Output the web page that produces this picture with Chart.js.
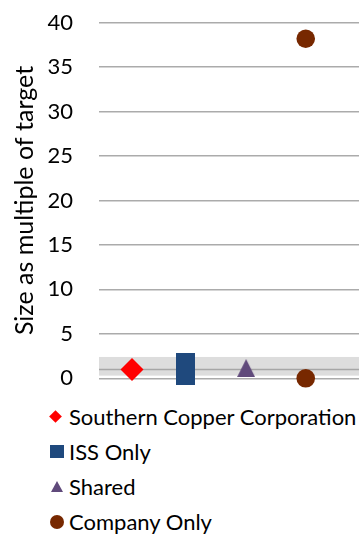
<!DOCTYPE html>
<html>
<head>
<meta charset="utf-8">
<script src="https://cdn.jsdelivr.net/npm/chart.js@4"></script>
<style>
  html, body { margin: 0; padding: 0; background: #fff; }
  #wrap { position: relative; width: 359px; height: 534px; }
  #chart-box { position: absolute; left: 0; top: 0; width: 359px; height: 395px; }
  #legend { position: absolute; left: 0; top: 399px; width: 359px; font-family: Lato, "Open Sans", sans-serif; font-size: 22px; color: #000; }
  .item { position: relative; height: 35px; line-height: 35px; padding-left: 69px; white-space: nowrap; }
  .mk { position: absolute; top: 50%; }
</style>
</head>
<body>
<div id="wrap">
  <div id="chart-box"><canvas id="scatter-chart"></canvas></div>
  <div id="legend"></div>
</div>
<script>
// Series (x = slot on the horizontal, y = size as multiple of target)
const seriesNames = ["Southern Copper Corporation", "ISS Only", "Shared", "Company Only"];
const companyX = [1];
const companyY = [1.0];
const issX = [1.92];
const issY = [1.0];
const sharedX = [2.97];
const sharedY = [1.15];
const onlyX = [4, 4];
const onlyY = [38.2, 0.0];

// target band and target line
const bandRange = [0.3, 2.4];
const targetLine = [1];

// y axis ticks
const yTicks = [0, 5, 10, 15, 20, 25, 30, 35, 40];

const colors = ["#FF0000", "#1F497D", "#604A7B", "#772800"];

function toPoints(xs, ys) {
    return xs.map((x, i) => ({ x: x, y: ys[i] }));
}

// custom marker images
function rectMarker(w, h, color) {
    const c = document.createElement("canvas");
    c.width = w; c.height = h;
    const g = c.getContext("2d");
    g.fillStyle = color;
    g.fillRect(0, 0, w, h);
    return c;
}
function triMarker(w, h, color) {
    const c = document.createElement("canvas");
    c.width = w; c.height = h;
    const g = c.getContext("2d");
    g.fillStyle = color;
    g.beginPath();
    g.moveTo(w / 2, 0);
    g.lineTo(w, h);
    g.lineTo(0, h);
    g.closePath();
    g.fill();
    return c;
}

// gray target band drawn behind the markers
const bandPlugin = {
    id: "targetBand",
    beforeDatasetsDraw(chart) {
        const { ctx, chartArea, scales } = chart;
        const yTop = scales.y.getPixelForValue(bandRange[1]);
        const yBot = scales.y.getPixelForValue(bandRange[0]);
        ctx.save();
        ctx.fillStyle = "#DDDDDD";
        ctx.fillRect(chartArea.left, yTop, chartArea.right - chartArea.left, yBot - yTop);
        ctx.strokeStyle = "#A6A6A6";
        ctx.lineWidth = 1.5;
        targetLine.forEach(v => {
            const y = scales.y.getPixelForValue(v);
            ctx.beginPath();
            ctx.moveTo(chartArea.left, y);
            ctx.lineTo(chartArea.right, y);
            ctx.stroke();
        });
        ctx.restore();
    }
};

const ctx = document.getElementById("scatter-chart").getContext("2d");

let scatterChart = new Chart(ctx, {
    type: "scatter",
    data: {
        datasets: [
            {
                label: seriesNames[0],
                data: toPoints(companyX, companyY),
                pointStyle: "rectRot",
                pointRadius: 11.5,
                backgroundColor: colors[0],
                borderWidth: 0,
                clip: false
            },
            {
                label: seriesNames[1],
                data: toPoints(issX, issY),
                pointStyle: rectMarker(19, 32, colors[1]),
                backgroundColor: colors[1],
                borderWidth: 0,
                clip: false
            },
            {
                label: seriesNames[2],
                data: toPoints(sharedX, sharedY),
                pointStyle: triMarker(18, 18, colors[2]),
                backgroundColor: colors[2],
                borderWidth: 0,
                clip: false
            },
            {
                label: seriesNames[3],
                data: toPoints(onlyX, onlyY),
                pointStyle: "circle",
                pointRadius: 9.3,
                backgroundColor: colors[3],
                borderWidth: 0,
                clip: false
            }
        ]
    },
    options: {
        responsive: true,
        maintainAspectRatio: false,
        animation: false,
        layout: {
            autoPadding: false,
            padding: { top: 22.7, right: 0, bottom: 16.7, left: 0 }
        },
        plugins: {
            legend: { display: false },
            tooltip: { enabled: false }
        },
        scales: {
            x: {
                type: "linear",
                display: false,
                min: 0.43,
                max: 4.92
            },
            y: {
                min: 0,
                max: 40,
                afterBuildTicks: axis => { axis.ticks = yTicks.map(v => ({ value: v })); },
                afterFit: axis => {
                    axis.width = 99;
                    axis.paddingTop = 0;
                    axis.paddingBottom = 0;
                },
                border: { display: false },
                grid: { color: "#ABABAB", lineWidth: 1.5, drawTicks: false },
                ticks: {
                    padding: 26,
                    color: "#000",
                    font: { family: "Lato", size: 22 }
                },
                title: {
                    display: true,
                    text: "Size as multiple of target",
                    color: "#000",
                    font: { family: "Lato", size: 25 },
                    padding: { top: 10, bottom: 0 }
                }
            }
        }
    },
    plugins: [bandPlugin]
});

// legend as a single column below the chart
const legendEl = document.getElementById("legend");
const markerCss = [
    "left:51px;width:9px;height:9px;margin-top:-4.5px;background:" + colors[0] + ";transform:rotate(45deg);",
    "left:50px;width:14px;height:13px;margin-top:-6.5px;background:" + colors[1] + ";",
    "left:51px;width:0;height:0;margin-top:-6px;border-left:6px solid transparent;border-right:6px solid transparent;border-bottom:11px solid " + colors[2] + ";",
    "left:50px;width:14px;height:14px;margin-top:-7px;border-radius:50%;background:" + colors[3] + ";"
];
seriesNames.forEach((name, i) => {
    const row = document.createElement("div");
    row.className = "item";
    const mk = document.createElement("span");
    mk.className = "mk";
    mk.style.cssText = markerCss[i];
    row.appendChild(mk);
    row.appendChild(document.createTextNode(name));
    legendEl.appendChild(row);
});
</script>
</body>
</html>
